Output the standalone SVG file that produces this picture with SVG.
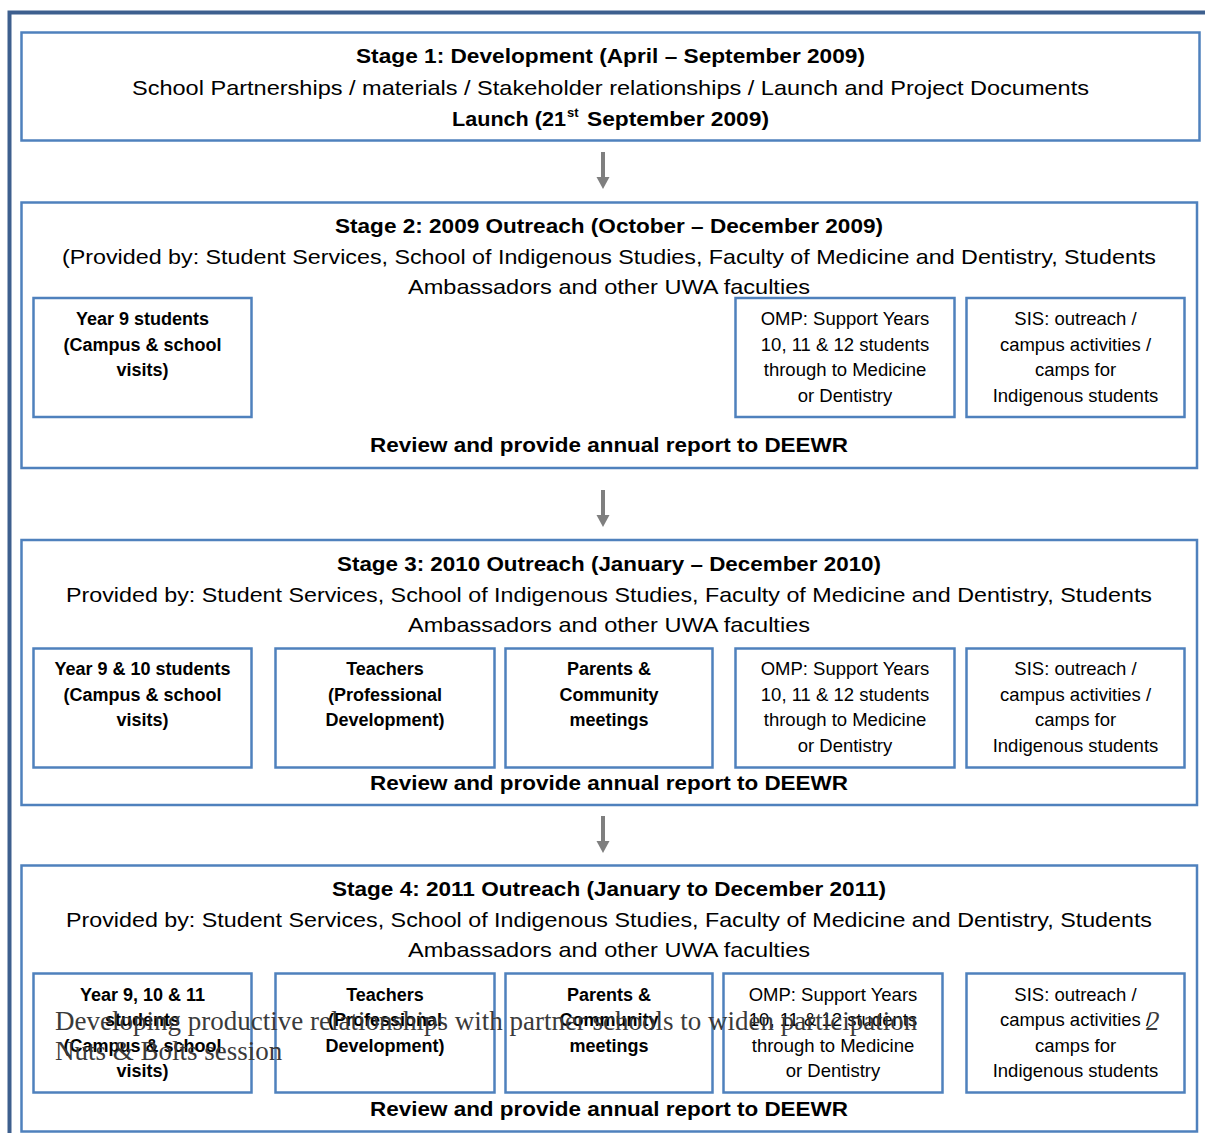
<svg xmlns="http://www.w3.org/2000/svg" width="1205" height="1133" viewBox="0 0 1205 1133">
<style>
.frame{fill:none;stroke:#3D5F8E;stroke-width:4}
.stage{fill:#fff;stroke:#4F81BD;stroke-width:2.5}
.box{fill:#fff;stroke:#4F81BD;stroke-width:2.5}
text{font-family:"Liberation Sans",Arial,sans-serif;fill:#000;text-anchor:middle}
.h{font-size:21px;font-weight:bold}
.n{font-size:21px}
.s{font-size:18.5px}
.sb{font-size:18px;font-weight:bold}
.ov{font-family:"Liberation Serif","Times New Roman",serif;font-size:27px;fill:#3a3a3a;text-anchor:start}
.conn{stroke:#7F7F7F;stroke-width:4;fill:none}
</style>
<defs>
<marker id="ah" markerUnits="userSpaceOnUse" markerWidth="14" markerHeight="14" refX="0" refY="6.5" orient="auto">
<path d="M0,0 L12,6.5 L0,13 z" fill="#7F7F7F"/>
</marker>
</defs>
<rect width="1205" height="1133" fill="#fff"/>
<path class="frame" d="M9.5,1133 V12.5 H1205"/>

<g id="stage1">
<rect class="stage" x="21.5" y="32.5" width="1178" height="108"/>
<text class="h" x="610.5" y="63" textLength="509" lengthAdjust="spacingAndGlyphs">Stage 1: Development (April – September 2009)</text>
<text class="n" x="610.5" y="95" textLength="957" lengthAdjust="spacingAndGlyphs">School Partnerships / materials / Stakeholder relationships / Launch and Project Documents</text>
<text class="h" style="text-anchor:start" x="452" y="126" textLength="114" lengthAdjust="spacingAndGlyphs">Launch (21</text>
<text class="h" style="text-anchor:start;font-size:13px" x="567" y="117">st</text>
<text class="h" style="text-anchor:start" x="587" y="126" textLength="182" lengthAdjust="spacingAndGlyphs">September 2009)</text>
</g>

<g id="stage2">
<rect class="stage" x="21.5" y="202.5" width="1175.5" height="265.5"/>
<text class="h" x="609" y="233" textLength="548" lengthAdjust="spacingAndGlyphs">Stage 2: 2009 Outreach (October – December 2009)</text>
<text class="n" x="609" y="264" textLength="1094" lengthAdjust="spacingAndGlyphs">(Provided by: Student Services, School of Indigenous Studies, Faculty of Medicine and Dentistry, Students</text>
<text class="n" x="609" y="294" textLength="402" lengthAdjust="spacingAndGlyphs">Ambassadors and other UWA faculties</text>
<text class="h" x="609" y="452" textLength="478" lengthAdjust="spacingAndGlyphs">Review and provide annual report to DEEWR</text>
</g>
<g id="stage2-year9">
<rect class="box" x="33.5" y="298" width="218" height="119"/>
<text class="sb" x="142.5" y="325">Year 9 students</text>
<text class="sb" x="142.5" y="351">(Campus &amp; school</text>
<text class="sb" x="142.5" y="376">visits)</text>
</g>
<g id="stage2-omp">
<rect class="box" x="735.5" y="298" width="219" height="119"/>
<text class="s" x="845" y="325">OMP: Support Years</text>
<text class="s" x="845" y="351">10, 11 &amp; 12 students</text>
<text class="s" x="845" y="376">through to Medicine</text>
<text class="s" x="845" y="402">or Dentistry</text>
</g>
<g id="stage2-sis">
<rect class="box" x="966.5" y="298" width="218" height="119"/>
<text class="s" x="1075.5" y="325">SIS: outreach /</text>
<text class="s" x="1075.5" y="351">campus activities /</text>
<text class="s" x="1075.5" y="376">camps for</text>
<text class="s" x="1075.5" y="402">Indigenous students</text>
</g>

<g id="stage3">
<rect class="stage" x="21.5" y="540" width="1175.5" height="265"/>
<text class="h" x="609" y="571" textLength="544" lengthAdjust="spacingAndGlyphs">Stage 3: 2010 Outreach (January – December 2010)</text>
<text class="n" x="609" y="602" textLength="1086" lengthAdjust="spacingAndGlyphs">Provided by: Student Services, School of Indigenous Studies, Faculty of Medicine and Dentistry, Students</text>
<text class="n" x="609" y="632" textLength="402" lengthAdjust="spacingAndGlyphs">Ambassadors and other UWA faculties</text>
<text class="h" x="609" y="790" textLength="478" lengthAdjust="spacingAndGlyphs">Review and provide annual report to DEEWR</text>
</g>
<g id="stage3-year9-10">
<rect class="box" x="33.5" y="648.5" width="218" height="119"/>
<text class="sb" x="142.5" y="675">Year 9 &amp; 10 students</text>
<text class="sb" x="142.5" y="701">(Campus &amp; school</text>
<text class="sb" x="142.5" y="726">visits)</text>
</g>
<g id="stage3-teachers">
<rect class="box" x="275.5" y="648.5" width="219" height="119"/>
<text class="sb" x="385" y="675">Teachers</text>
<text class="sb" x="385" y="701">(Professional</text>
<text class="sb" x="385" y="726">Development)</text>
</g>
<g id="stage3-parents">
<rect class="box" x="505.5" y="648.5" width="207" height="119"/>
<text class="sb" x="609" y="675">Parents &amp;</text>
<text class="sb" x="609" y="701">Community</text>
<text class="sb" x="609" y="726">meetings</text>
</g>
<g id="stage3-omp">
<rect class="box" x="735.5" y="648.5" width="219" height="119"/>
<text class="s" x="845" y="675">OMP: Support Years</text>
<text class="s" x="845" y="701">10, 11 &amp; 12 students</text>
<text class="s" x="845" y="726">through to Medicine</text>
<text class="s" x="845" y="752">or Dentistry</text>
</g>
<g id="stage3-sis">
<rect class="box" x="966.5" y="648.5" width="218" height="119"/>
<text class="s" x="1075.5" y="675">SIS: outreach /</text>
<text class="s" x="1075.5" y="701">campus activities /</text>
<text class="s" x="1075.5" y="726">camps for</text>
<text class="s" x="1075.5" y="752">Indigenous students</text>
</g>

<g id="stage4">
<rect class="stage" x="21.5" y="865.5" width="1175.5" height="266"/>
<text class="h" x="609" y="896" textLength="554" lengthAdjust="spacingAndGlyphs">Stage 4: 2011 Outreach (January to December 2011)</text>
<text class="n" x="609" y="927" textLength="1086" lengthAdjust="spacingAndGlyphs">Provided by: Student Services, School of Indigenous Studies, Faculty of Medicine and Dentistry, Students</text>
<text class="n" x="609" y="957" textLength="402" lengthAdjust="spacingAndGlyphs">Ambassadors and other UWA faculties</text>
<text class="h" x="609" y="1116" textLength="478" lengthAdjust="spacingAndGlyphs">Review and provide annual report to DEEWR</text>
</g>
<g id="stage4-year9-10-11">
<rect class="box" x="33.5" y="973.5" width="218" height="119"/>
<text class="sb" x="142.5" y="1001">Year 9, 10 &amp; 11</text>
<text class="sb" x="142.5" y="1026">students</text>
<text class="sb" x="142.5" y="1052">(Campus &amp; school</text>
<text class="sb" x="142.5" y="1077">visits)</text>
</g>
<g id="stage4-teachers">
<rect class="box" x="275.5" y="973.5" width="219" height="119"/>
<text class="sb" x="385" y="1001">Teachers</text>
<text class="sb" x="385" y="1026">(Professional</text>
<text class="sb" x="385" y="1052">Development)</text>
</g>
<g id="stage4-parents">
<rect class="box" x="505.5" y="973.5" width="207" height="119"/>
<text class="sb" x="609" y="1001">Parents &amp;</text>
<text class="sb" x="609" y="1026">Community</text>
<text class="sb" x="609" y="1052">meetings</text>
</g>
<g id="stage4-omp">
<rect class="box" x="723.5" y="973.5" width="219" height="119"/>
<text class="s" x="833" y="1001">OMP: Support Years</text>
<text class="s" x="833" y="1026">10, 11 &amp; 12 students</text>
<text class="s" x="833" y="1052">through to Medicine</text>
<text class="s" x="833" y="1077">or Dentistry</text>
</g>
<g id="stage4-sis">
<rect class="box" x="966.5" y="973.5" width="218" height="119"/>
<text class="s" x="1075.5" y="1001">SIS: outreach /</text>
<text class="s" x="1075.5" y="1026">campus activities /</text>
<text class="s" x="1075.5" y="1052">camps for</text>
<text class="s" x="1075.5" y="1077">Indigenous students</text>
</g>

<g id="connectors">
<line class="conn" x1="603" y1="152" x2="603" y2="177" marker-end="url(#ah)"/>
<line class="conn" x1="603" y1="490" x2="603" y2="515" marker-end="url(#ah)"/>
<line class="conn" x1="603" y1="816" x2="603" y2="841" marker-end="url(#ah)"/>
</g>

<g id="overlay">
<text class="ov" x="55" y="1030">Developing productive relationships with partner schools to widen participation</text>
<text class="ov" x="55" y="1060">Nuts &amp; Bolts session</text>
<text class="ov" style="font-style:italic" x="1146" y="1030">2</text>
</g>
</svg>
